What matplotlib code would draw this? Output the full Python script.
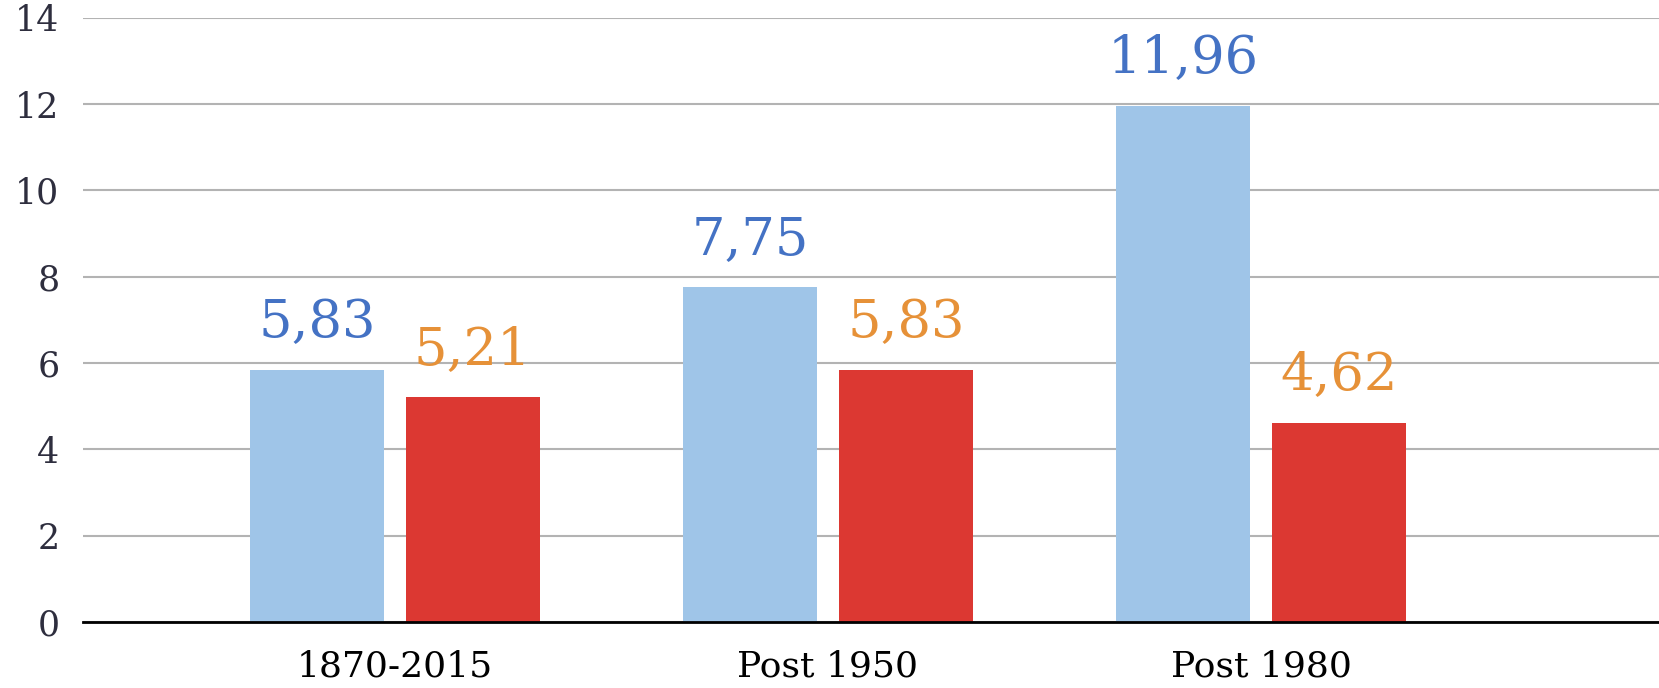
import matplotlib
matplotlib.use("Agg")
import matplotlib.pyplot as plt
import numpy as np

categories = ["1870-2015", "Post 1950", "Post 1980"]
blue_vals = [5.83, 7.75, 11.96]
red_vals = [5.21, 5.83, 4.62]
blue_labels = ["5,83", "7,75", "11,96"]
red_labels = ["5,21", "5,83", "4,62"]
yticks = [0, 2, 4, 6, 8, 10, 12, 14]

plt.rcParams["font.family"] = ["DejaVu Serif"]

fig = plt.figure(figsize=(16.59, 6.88), dpi=100)
ax = fig.add_axes([83 / 1659, 1 - 622 / 688, 1 - 83 / 1659, (622 - 17.7) / 688])

x = np.arange(len(categories))
w = 0.309
off = 0.18
ax.bar(x - off, blue_vals, w, color="#9FC5E8", zorder=3)
ax.bar(x + off, red_vals, w, color="#DC3832", zorder=3)

for xi, v, s in zip(x, blue_vals, blue_labels):
    ax.annotate(s, (xi - off, v), xytext=(0, 24), textcoords="offset points",
                ha="center", va="baseline", fontsize=38, color="#4472C4")
for xi, v, s in zip(x, red_vals, red_labels):
    ax.annotate(s, (xi + off, v), xytext=(0, 24), textcoords="offset points",
                ha="center", va="baseline", fontsize=38, color="#E69138")

ax.set_xlim(-0.72, 2.919)
ax.set_ylim(0, 14)
ax.set_yticks(yticks)
ax.set_yticklabels([str(t) for t in yticks], fontsize=25, color="#2E2E3E")
ax.set_xticks(x)
ax.set_xticklabels(categories, fontsize=26, color="black")
ax.tick_params(axis="y", length=0, pad=17)
ax.tick_params(axis="x", length=0, pad=20)

ax.grid(axis="y", color="#B3B3B3", linewidth=1.5, zorder=0)
for side in ["top", "right", "left"]:
    ax.spines[side].set_visible(False)
ax.spines["bottom"].set_color("black")
ax.spines["bottom"].set_linewidth(2)
ax.spines["bottom"].set_zorder(4)

fig.savefig("out.png", dpi=100)
